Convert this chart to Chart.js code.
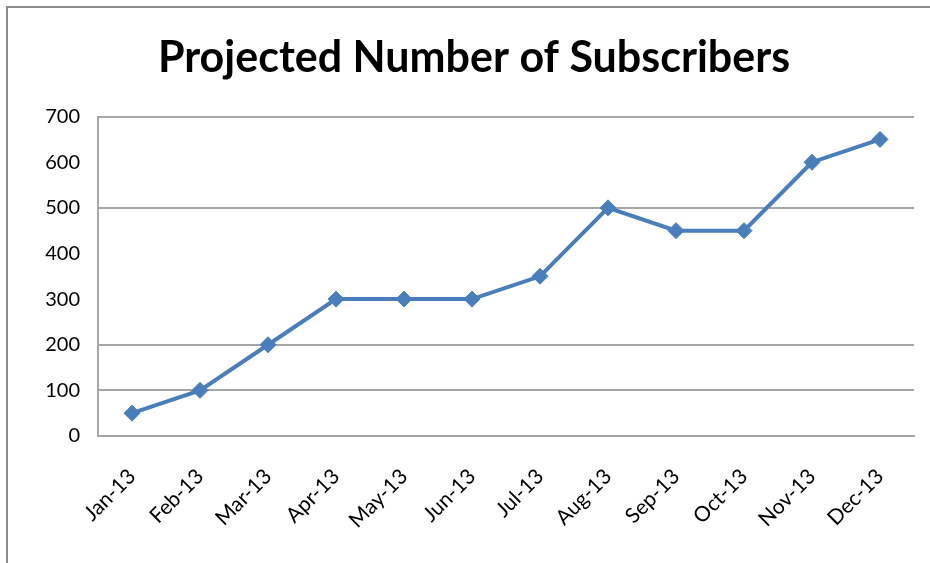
<!DOCTYPE html>
<html>
<head>
<meta charset="utf-8">
<script src="https://cdn.jsdelivr.net/npm/chart.js@4.4.0/dist/chart.umd.min.js"></script>
<style>
  html, body { margin: 0; padding: 0; background: #fff; }
  #wrap { position: relative; width: 930px; height: 563px; }
  #frame { position: absolute; left: 6px; top: 6px; right: 0; bottom: 0;
           border-top: 2px solid #8c8c8c; border-left: 2px solid #8c8c8c; }
  canvas { position: absolute; left: 0; top: 0; }
</style>
</head>
<body>
<div id="wrap">
  <div id="frame"></div>
  <canvas id="chart" width="930" height="563"></canvas>
</div>
<script>
const months = ['Jan-13', 'Feb-13', 'Mar-13', 'Apr-13', 'May-13', 'Jun-13',
                'Jul-13', 'Aug-13', 'Sep-13', 'Oct-13', 'Nov-13', 'Dec-13'];
const subscribers = [50, 100, 200, 300, 300, 300, 350, 500, 450, 450, 600, 650];
// only these gridlines show in the reference
const gridValues = [100, 200, 500, 700];

const font = 'Lato, "Open Sans", sans-serif';
const gridColor = '#a6a6a6';

// draws the horizontal gridlines at the chosen values, under the line
const partialGrid = {
  id: 'partialGrid',
  beforeDatasetsDraw(chart) {
    const { ctx, chartArea, scales: { y } } = chart;
    ctx.save();
    ctx.strokeStyle = gridColor;
    ctx.lineWidth = 2;
    gridValues.forEach(v => {
      const py = Math.round(y.getPixelForValue(v));
      ctx.beginPath();
      ctx.moveTo(chartArea.left, py);
      ctx.lineTo(chartArea.right, py);
      ctx.stroke();
    });
    ctx.restore();
  }
};

new Chart(document.getElementById('chart'), {
  type: 'line',
  data: {
    labels: months,
    datasets: [{
      label: 'Subscribers',
      data: subscribers,
      borderColor: '#4a7ebb',
      backgroundColor: '#4a7ebb',
      borderWidth: 4,
      pointStyle: 'rectRot',
      pointRadius: 8,
      pointBorderWidth: 1,
      tension: 0
    }]
  },
  options: {
    responsive: false,
    animation: false,
    layout: { padding: { left: 34, right: 16, top: 0, bottom: 0 } },
    plugins: {
      legend: { display: false },
      tooltip: { enabled: false },
      title: {
        display: true,
        text: 'Projected Number of Subscribers',
        color: '#000',
        font: { family: font, size: 43, weight: 'bold' },
        padding: { top: 32, bottom: 33 }
      }
    },
    scales: {
      x: {
        offset: true,
        grid: { display: false, drawTicks: false },
        border: { display: true, color: gridColor, width: 2 },
        ticks: {
          color: '#000',
          font: { family: font, size: 21 },
          minRotation: 45,
          maxRotation: 45,
          padding: 28
        },
        afterFit: s => { s.height = 127; }
      },
      y: {
        min: 0,
        max: 700,
        grid: { display: false, drawTicks: false },
        border: { display: true, color: gridColor, width: 2 },
        ticks: {
          stepSize: 100,
          color: '#000',
          font: { family: font, size: 20 },
          padding: 18
        },
        afterFit: s => { s.width = 64; }
      }
    }
  },
  plugins: [partialGrid]
});
</script>
</body>
</html>
